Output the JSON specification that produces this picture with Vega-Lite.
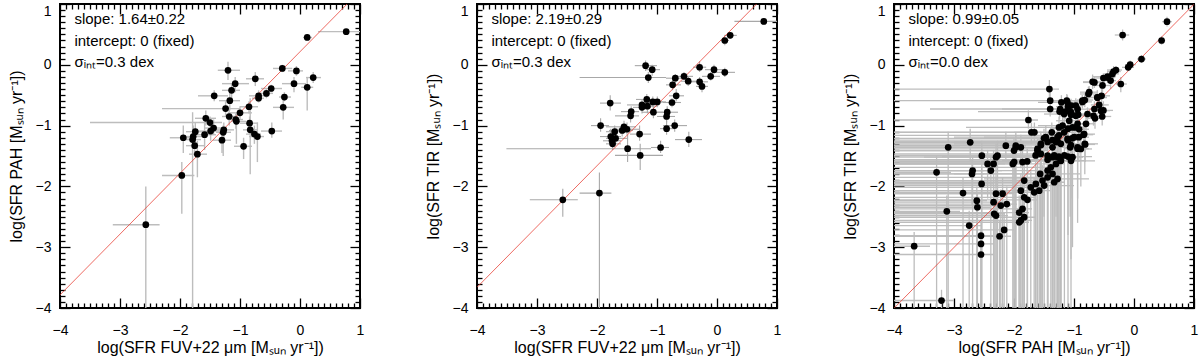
{
"$schema": "https://vega.github.io/schema/vega-lite/v6.json",
"padding": {"left": 7, "top": 2, "right": 0, "bottom": 0},
"background": "white",
"spacing": 59,
"config": {
  "view": {"stroke": "black", "strokeWidth": 2},
  "font": "Liberation Sans",
  "axis": {"domain": false, "tickColor": "black", "tickWidth": 1.3, "grid": false, "labelFont": "Liberation Sans", "labelFontSize": 14, "labelColor": "black", "labelFlush": false, "labelOverlap": false, "titleFont": "Liberation Sans", "titleFontSize": 16, "titleFontWeight": "normal", "titleColor": "black"}
},
"datasets": {
"p1": [
{"x":0.77,"y":0.545,"xlo":0.30,"xhi":1.25,"ylo":0.50,"yhi":0.59},
{"x":0.12,"y":0.45,"xlo":0.05,"xhi":0.2,"ylo":0.40,"yhi":0.50},
{"x":-0.295,"y":-0.06,"xlo":-0.45,"xhi":-0.13,"ylo":-0.12,"yhi":0.0},
{"x":-0.06,"y":-0.10,"xlo":-0.2,"xhi":0.05,"ylo":-0.18,"yhi":-0.02},
{"x":0.22,"y":-0.21,"xlo":0.1,"xhi":0.35,"ylo":-0.3,"yhi":-0.12},
{"x":0.12,"y":-0.37,"xlo":0.02,"xhi":0.22,"ylo":-0.75,"yhi":-0.2},
{"x":-0.1,"y":-0.31,"xlo":-0.3,"xhi":0.1,"ylo":-0.45,"yhi":-0.2},
{"x":-0.48,"y":-0.39,"xlo":-0.65,"xhi":-0.3,"ylo":-0.45,"yhi":-0.33},
{"x":-0.56,"y":-0.47,"xlo":-0.7,"xhi":-0.45,"ylo":-0.55,"yhi":-0.4},
{"x":-0.69,"y":-0.51,"xlo":-0.85,"xhi":-0.55,"ylo":-0.6,"yhi":-0.42},
{"x":-0.69,"y":-0.55,"xlo":-0.8,"xhi":-0.6,"ylo":-0.62,"yhi":-0.48},
{"x":-0.26,"y":-0.53,"xlo":-0.35,"xhi":-0.15,"ylo":-0.6,"yhi":-0.45},
{"x":-0.28,"y":-0.70,"xlo":-0.45,"xhi":-0.1,"ylo":-0.9,"yhi":-0.55},
{"x":-0.745,"y":-0.23,"xlo":-0.9,"xhi":-0.6,"ylo":-0.35,"yhi":-0.12},
{"x":-0.85,"y":-0.69,"xlo":-1.0,"xhi":-0.7,"ylo":-0.8,"yhi":-0.6},
{"x":-1.2,"y":-0.09,"xlo":-1.37,"xhi":-1.0,"ylo":-0.25,"yhi":0.05},
{"x":-1.08,"y":-0.31,"xlo":-1.3,"xhi":-0.85,"ylo":-0.45,"yhi":-0.2},
{"x":-1.14,"y":-0.42,"xlo":-1.3,"xhi":-1.0,"ylo":-0.6,"yhi":-0.3},
{"x":-1.43,"y":-0.51,"xlo":-1.7,"xhi":-1.2,"ylo":-0.6,"yhi":-0.42},
{"x":-1.17,"y":-0.59,"xlo":-1.35,"xhi":-1.0,"ylo":-0.75,"yhi":-0.45},
{"x":-1.24,"y":-0.72,"xlo":-2.3,"xhi":-1.0,"ylo":-0.85,"yhi":-0.6},
{"x":-1.0,"y":-0.79,"xlo":-1.2,"xhi":-0.8,"ylo":-0.9,"yhi":-0.68},
{"x":-1.18,"y":-0.85,"xlo":-1.3,"xhi":-1.05,"ylo":-1.0,"yhi":-0.7},
{"x":-1.07,"y":-0.90,"xlo":-1.2,"xhi":-0.95,"ylo":-1.05,"yhi":-0.8},
{"x":-1.06,"y":-0.93,"xlo":-1.15,"xhi":-0.9,"ylo":-1.3,"yhi":-0.8},
{"x":-1.57,"y":-0.88,"xlo":-1.75,"xhi":-1.4,"ylo":-1.0,"yhi":-0.75},
{"x":-1.5,"y":-0.95,"xlo":-3.5,"xhi":-1.3,"ylo":-1.05,"yhi":-0.85},
{"x":-1.44,"y":-1.04,"xlo":-1.6,"xhi":-1.3,"ylo":-1.15,"yhi":-0.9},
{"x":-1.49,"y":-1.09,"xlo":-1.7,"xhi":-1.3,"ylo":-1.25,"yhi":-0.95},
{"x":-1.59,"y":-1.15,"xlo":-1.8,"xhi":-1.4,"ylo":-1.4,"yhi":-0.95},
{"x":-1.27,"y":-1.07,"xlo":-1.45,"xhi":-1.1,"ylo":-1.2,"yhi":-0.95},
{"x":-1.28,"y":-1.11,"xlo":-1.4,"xhi":-1.15,"ylo":-1.5,"yhi":-1.0},
{"x":-1.3,"y":-1.24,"xlo":-1.45,"xhi":-1.15,"ylo":-1.45,"yhi":-1.1},
{"x":-0.84,"y":-0.96,"xlo":-1.0,"xhi":-0.7,"ylo":-1.1,"yhi":-0.85},
{"x":-0.83,"y":-1.07,"xlo":-0.95,"xhi":-0.7,"ylo":-1.8,"yhi":-0.55},
{"x":-0.76,"y":-1.14,"xlo":-0.9,"xhi":-0.65,"ylo":-1.3,"yhi":-1.0},
{"x":-0.71,"y":-1.18,"xlo":-0.85,"xhi":-0.6,"ylo":-1.6,"yhi":-0.95},
{"x":-0.47,"y":-1.09,"xlo":-0.65,"xhi":-0.3,"ylo":-1.2,"yhi":-0.95},
{"x":-0.94,"y":-1.34,"xlo":-1.1,"xhi":-0.8,"ylo":-1.55,"yhi":-1.2},
{"x":-1.745,"y":-1.10,"xlo":-1.9,"xhi":-1.5,"ylo":-1.3,"yhi":-0.95},
{"x":-1.78,"y":-1.18,"xlo":-1.95,"xhi":-1.6,"ylo":-1.35,"yhi":-1.0},
{"x":-1.79,"y":-1.23,"xlo":-1.9,"xhi":-1.65,"ylo":-4.0,"yhi":-0.78},
{"x":-1.945,"y":-1.20,"xlo":-2.17,"xhi":-1.78,"ylo":-1.45,"yhi":-1.0},
{"x":-1.755,"y":-1.33,"xlo":-1.9,"xhi":-1.6,"ylo":-1.5,"yhi":-1.15},
{"x":-1.71,"y":-1.47,"xlo":-1.85,"xhi":-1.55,"ylo":-1.85,"yhi":-1.25},
{"x":-1.97,"y":-1.82,"xlo":-2.3,"xhi":-1.76,"ylo":-2.45,"yhi":-1.6},
{"x":-2.57,"y":-2.63,"xlo":-3.12,"xhi":-2.34,"ylo":-4.0,"yhi":-2.0}
],
"p2": [
{"x":0.78,"y":0.714,"xlo":0.29,"xhi":1.1,"ylo":0.66,"yhi":0.77},
{"x":0.22,"y":0.484,"xlo":0.12,"xhi":0.33,"ylo":0.43,"yhi":0.54},
{"x":0.13,"y":0.40,"xlo":0.05,"xhi":0.2,"ylo":0.32,"yhi":0.47},
{"x":0.13,"y":-0.124,"xlo":-0.02,"xhi":0.3,"ylo":-0.2,"yhi":-0.05},
{"x":-0.29,"y":-0.04,"xlo":-0.4,"xhi":-0.18,"ylo":-0.12,"yhi":0.06},
{"x":-0.05,"y":-0.08,"xlo":-0.2,"xhi":0.1,"ylo":-0.15,"yhi":0.0},
{"x":-0.105,"y":-0.19,"xlo":-0.25,"xhi":0.05,"ylo":-0.26,"yhi":-0.12},
{"x":-0.29,"y":-0.28,"xlo":-0.45,"xhi":-0.15,"ylo":-0.35,"yhi":-0.2},
{"x":-0.25,"y":-0.355,"xlo":-0.35,"xhi":-0.15,"ylo":-0.45,"yhi":-0.28},
{"x":-1.19,"y":-0.014,"xlo":-1.37,"xhi":-1.0,"ylo":-0.1,"yhi":0.07},
{"x":-1.08,"y":-0.08,"xlo":-1.2,"xhi":-0.95,"ylo":-0.18,"yhi":0.0},
{"x":-1.145,"y":-0.21,"xlo":-2.29,"xhi":-0.85,"ylo":-0.3,"yhi":-0.12},
{"x":-0.695,"y":-0.22,"xlo":-0.85,"xhi":-0.55,"ylo":-0.3,"yhi":-0.15},
{"x":-0.55,"y":-0.19,"xlo":-0.7,"xhi":-0.4,"ylo":-0.25,"yhi":-0.12},
{"x":-0.48,"y":-0.27,"xlo":-0.6,"xhi":-0.35,"ylo":-0.35,"yhi":-0.2},
{"x":-0.74,"y":-0.33,"xlo":-0.85,"xhi":-0.6,"ylo":-0.42,"yhi":-0.24},
{"x":-0.68,"y":-0.51,"xlo":-0.8,"xhi":-0.55,"ylo":-0.6,"yhi":-0.4},
{"x":-0.75,"y":-0.62,"xlo":-0.9,"xhi":-0.6,"ylo":-0.7,"yhi":-0.55},
{"x":-1.17,"y":-0.57,"xlo":-1.35,"xhi":-1.0,"ylo":-0.65,"yhi":-0.48},
{"x":-1.07,"y":-0.61,"xlo":-1.2,"xhi":-0.9,"ylo":-0.7,"yhi":-0.52},
{"x":-0.995,"y":-0.61,"xlo":-1.15,"xhi":-0.85,"ylo":-0.7,"yhi":-0.52},
{"x":-1.25,"y":-0.66,"xlo":-1.5,"xhi":-1.1,"ylo":-0.75,"yhi":-0.58},
{"x":-1.25,"y":-0.70,"xlo":-1.4,"xhi":-1.1,"ylo":-0.8,"yhi":-0.62},
{"x":-1.16,"y":-0.68,"xlo":-1.3,"xhi":-1.0,"ylo":-0.8,"yhi":-0.58},
{"x":-1.43,"y":-0.77,"xlo":-1.6,"xhi":-1.3,"ylo":-0.85,"yhi":-0.68},
{"x":-1.44,"y":-0.84,"xlo":-1.7,"xhi":-1.3,"ylo":-0.95,"yhi":-0.75},
{"x":-1.78,"y":-0.63,"xlo":-1.95,"xhi":-1.6,"ylo":-0.75,"yhi":-0.5},
{"x":-1.06,"y":-0.78,"xlo":-1.25,"xhi":-0.9,"ylo":-0.88,"yhi":-0.68},
{"x":-0.83,"y":-0.78,"xlo":-1.0,"xhi":-0.65,"ylo":-0.88,"yhi":-0.68},
{"x":-0.84,"y":-0.85,"xlo":-1.0,"xhi":-0.7,"ylo":-0.95,"yhi":-0.78},
{"x":-0.705,"y":-1.0,"xlo":-0.9,"xhi":-0.5,"ylo":-1.1,"yhi":-0.9},
{"x":-0.84,"y":-1.05,"xlo":-0.95,"xhi":-0.7,"ylo":-1.15,"yhi":-0.92},
{"x":-1.94,"y":-1.0,"xlo":-2.1,"xhi":-1.8,"ylo":-1.1,"yhi":-0.88},
{"x":-1.55,"y":-1.02,"xlo":-1.85,"xhi":-1.35,"ylo":-1.1,"yhi":-0.92},
{"x":-1.58,"y":-1.08,"xlo":-1.8,"xhi":-1.4,"ylo":-1.18,"yhi":-0.98},
{"x":-1.5,"y":-1.06,"xlo":-1.7,"xhi":-1.3,"ylo":-1.15,"yhi":-0.95},
{"x":-1.705,"y":-1.10,"xlo":-1.85,"xhi":-1.55,"ylo":-1.2,"yhi":-1.0},
{"x":-1.77,"y":-1.18,"xlo":-1.95,"xhi":-1.6,"ylo":-1.3,"yhi":-1.05},
{"x":-1.69,"y":-1.21,"xlo":-1.85,"xhi":-1.5,"ylo":-1.3,"yhi":-1.1},
{"x":-1.75,"y":-1.25,"xlo":-1.9,"xhi":-1.6,"ylo":-1.35,"yhi":-1.15},
{"x":-1.74,"y":-1.30,"xlo":-1.85,"xhi":-1.6,"ylo":-1.4,"yhi":-1.2},
{"x":-1.29,"y":-1.14,"xlo":-1.45,"xhi":-1.1,"ylo":-1.25,"yhi":-1.0},
{"x":-0.47,"y":-1.23,"xlo":-0.7,"xhi":-0.25,"ylo":-1.35,"yhi":-1.1},
{"x":-0.94,"y":-1.36,"xlo":-1.1,"xhi":-0.8,"ylo":-1.45,"yhi":-1.25},
{"x":-1.49,"y":-1.38,"xlo":-3.51,"xhi":-1.1,"ylo":-1.6,"yhi":-1.15},
{"x":-1.28,"y":-1.49,"xlo":-1.7,"xhi":-0.9,"ylo":-1.73,"yhi":-1.3},
{"x":-2.57,"y":-2.22,"xlo":-3.12,"xhi":-2.32,"ylo":-2.5,"yhi":-2.04},
{"x":-1.96,"y":-2.11,"xlo":-2.29,"xhi":-1.76,"ylo":-4.0,"yhi":-1.77}
],
"p3": [
{"x":0.55,"y":0.71,"xlo":0.47,"xhi":0.63,"ylo":0.63,"yhi":0.79},
{"x":-0.19,"y":0.49,"xlo":-0.32,"xhi":-0.08,"ylo":0.40,"yhi":0.58},
{"x":0.46,"y":0.40,"xlo":0.40,"xhi":0.52,"ylo":0.33,"yhi":0.47},
{"x":0.125,"y":0.095,"xlo":0.05,"xhi":0.2,"ylo":0.03,"yhi":0.16},
{"x":-0.064,"y":0.002,"xlo":-0.15,"xhi":0.03,"ylo":-0.06,"yhi":0.07},
{"x":-0.097,"y":-0.042,"xlo":-0.2,"xhi":0.0,"ylo":-0.1,"yhi":0.02},
{"x":-0.30,"y":-0.086,"xlo":-0.45,"xhi":-0.2,"ylo":-0.15,"yhi":-0.02},
{"x":-0.36,"y":-0.15,"xlo":-0.5,"xhi":-0.25,"ylo":-0.22,"yhi":-0.08},
{"x":-0.44,"y":-0.195,"xlo":-0.7,"xhi":-0.3,"ylo":-0.26,"yhi":-0.13},
{"x":-0.51,"y":-0.217,"xlo":-0.65,"xhi":-0.4,"ylo":-0.3,"yhi":-0.14},
{"x":-0.39,"y":-0.26,"xlo":-0.55,"xhi":-0.3,"ylo":-0.4,"yhi":-0.15},
{"x":-0.22,"y":-0.316,"xlo":-0.3,"xhi":-0.12,"ylo":-0.45,"yhi":-0.2},
{"x":-0.66,"y":-0.29,"xlo":-0.85,"xhi":-0.55,"ylo":-0.38,"yhi":-0.2},
{"x":-0.747,"y":-0.45,"xlo":-0.9,"xhi":-0.6,"ylo":-0.55,"yhi":-0.35},
{"x":-0.61,"y":-0.535,"xlo":-0.75,"xhi":-0.45,"ylo":-0.65,"yhi":-0.42},
{"x":-0.86,"y":-0.59,"xlo":-1.0,"xhi":-0.75,"ylo":-0.7,"yhi":-0.5},
{"x":-0.66,"y":-0.727,"xlo":-0.8,"xhi":-0.5,"ylo":-0.85,"yhi":-0.6},
{"x":-0.55,"y":-0.754,"xlo":-0.7,"xhi":-0.4,"ylo":-0.9,"yhi":-0.65},
{"x":-0.775,"y":-0.809,"xlo":-0.95,"xhi":-0.6,"ylo":-0.95,"yhi":-0.7},
{"x":-0.97,"y":-0.67,"xlo":-1.2,"xhi":-0.85,"ylo":-0.8,"yhi":-0.55},
{"x":-1.11,"y":-0.617,"xlo":-1.4,"xhi":-0.95,"ylo":-0.75,"yhi":-0.5},
{"x":-1.10,"y":-0.69,"xlo":-1.3,"xhi":-0.95,"ylo":-0.8,"yhi":-0.58},
{"x":-1.21,"y":-0.617,"xlo":-1.6,"xhi":-1.05,"ylo":-0.72,"yhi":-0.5},
{"x":-1.23,"y":-0.727,"xlo":-2.2,"xhi":-1.1,"ylo":-0.85,"yhi":-0.6},
{"x":-1.05,"y":-0.78,"xlo":-1.2,"xhi":-0.9,"ylo":-0.9,"yhi":-0.65},
{"x":-1.164,"y":-0.81,"xlo":-1.5,"xhi":-1.0,"ylo":-0.95,"yhi":-0.7},
{"x":-0.97,"y":-0.836,"xlo":-1.1,"xhi":-0.8,"ylo":-0.95,"yhi":-0.7},
{"x":-1.41,"y":-0.40,"xlo":-4.0,"xhi":-1.25,"ylo":-0.55,"yhi":-0.25},
{"x":-1.397,"y":-0.59,"xlo":-4.0,"xhi":-1.25,"ylo":-0.7,"yhi":-0.45},
{"x":-1.397,"y":-0.727,"xlo":-3.4,"xhi":-1.25,"ylo":-0.85,"yhi":-0.6},
{"x":-1.76,"y":-0.908,"xlo":-4.0,"xhi":-1.6,"ylo":-1.05,"yhi":-0.75},
{"x":-1.71,"y":-1.11,"xlo":-4.0,"xhi":-1.55,"ylo":-1.3,"yhi":-0.95},
{"x":-1.66,"y":-1.11,"xlo":-4.0,"xhi":-1.5,"ylo":-1.25,"yhi":-0.95},
{"x":-1.37,"y":-1.11,"xlo":-4.0,"xhi":-1.2,"ylo":-1.3,"yhi":-0.95},
{"x":-1.47,"y":-1.19,"xlo":-3.0,"xhi":-1.3,"ylo":-1.4,"yhi":-1.0},
{"x":-1.275,"y":-1.19,"xlo":-2.5,"xhi":-1.1,"ylo":-1.4,"yhi":-1.0},
{"x":-1.025,"y":-1.03,"xlo":-1.3,"xhi":-0.85,"ylo":-1.2,"yhi":-0.88},
{"x":-0.94,"y":-0.97,"xlo":-1.1,"xhi":-0.8,"ylo":-1.1,"yhi":-0.85},
{"x":-0.914,"y":-1.06,"xlo":-1.1,"xhi":-0.75,"ylo":-1.25,"yhi":-0.9},
{"x":-0.83,"y":-1.14,"xlo":-1.0,"xhi":-0.65,"ylo":-1.3,"yhi":-1.0},
{"x":-0.997,"y":-1.19,"xlo":-1.2,"xhi":-0.85,"ylo":-1.5,"yhi":-1.0},
{"x":-1.108,"y":-1.22,"xlo":-1.6,"xhi":-0.95,"ylo":-1.6,"yhi":-1.05},
{"x":-1.164,"y":-1.11,"xlo":-2.0,"xhi":-1.0,"ylo":-1.3,"yhi":-0.95},
{"x":-1.25,"y":-1.03,"xlo":-2.8,"xhi":-1.1,"ylo":-1.2,"yhi":-0.85},
{"x":-1.064,"y":-1.357,"xlo":-1.5,"xhi":-0.9,"ylo":-2.5,"yhi":-1.15},
{"x":-0.94,"y":-1.357,"xlo":-1.2,"xhi":-0.8,"ylo":-2.2,"yhi":-1.15},
{"x":-0.886,"y":-1.384,"xlo":-1.05,"xhi":-0.7,"ylo":-2.0,"yhi":-1.2},
{"x":-0.814,"y":-1.31,"xlo":-1.0,"xhi":-0.65,"ylo":-1.6,"yhi":-1.1},
{"x":-1.025,"y":-1.52,"xlo":-1.4,"xhi":-0.85,"ylo":-3.0,"yhi":-1.3},
{"x":-1.358,"y":-1.357,"xlo":-4.0,"xhi":-1.2,"ylo":-4.0,"yhi":-1.15},
{"x":-1.30,"y":-1.27,"xlo":-3.0,"xhi":-1.15,"ylo":-2.5,"yhi":-1.1},
{"x":-1.553,"y":-1.30,"xlo":-4.0,"xhi":-1.4,"ylo":-4.0,"yhi":-1.1},
{"x":-1.608,"y":-1.384,"xlo":-4.0,"xhi":-1.45,"ylo":-4.0,"yhi":-1.2},
{"x":-1.553,"y":-1.466,"xlo":-4.0,"xhi":-1.4,"ylo":-4.0,"yhi":-1.25},
{"x":-1.44,"y":-1.494,"xlo":-4.0,"xhi":-1.3,"ylo":-4.0,"yhi":-1.3},
{"x":-1.358,"y":-1.52,"xlo":-3.5,"xhi":-1.2,"ylo":-4.0,"yhi":-1.3},
{"x":-1.275,"y":-1.52,"xlo":-2.5,"xhi":-1.1,"ylo":-4.0,"yhi":-1.3},
{"x":-1.22,"y":-1.576,"xlo":-2.2,"xhi":-0.8,"ylo":-4.0,"yhi":-1.35},
{"x":-1.30,"y":-1.63,"xlo":-4.0,"xhi":-1.15,"ylo":-4.0,"yhi":-1.4},
{"x":-1.386,"y":-1.686,"xlo":-4.0,"xhi":-1.2,"ylo":-4.0,"yhi":-1.45},
{"x":-1.44,"y":-1.74,"xlo":-4.0,"xhi":-1.3,"ylo":-4.0,"yhi":-1.5},
{"x":-1.358,"y":-1.795,"xlo":-3.0,"xhi":-0.9,"ylo":-4.0,"yhi":-1.55},
{"x":-1.275,"y":-1.877,"xlo":-2.5,"xhi":-0.75,"ylo":-4.0,"yhi":-1.6},
{"x":-1.33,"y":-1.932,"xlo":-4.0,"xhi":-1.15,"ylo":-4.0,"yhi":-1.7},
{"x":-1.44,"y":-1.85,"xlo":-4.0,"xhi":-1.3,"ylo":-4.0,"yhi":-1.6},
{"x":-1.525,"y":-1.905,"xlo":-4.0,"xhi":-1.35,"ylo":-4.0,"yhi":-1.65},
{"x":-1.564,"y":-1.795,"xlo":-4.0,"xhi":-1.4,"ylo":-4.0,"yhi":-1.55},
{"x":-1.636,"y":-1.96,"xlo":-4.0,"xhi":-1.45,"ylo":-4.0,"yhi":-1.7},
{"x":-1.497,"y":-1.987,"xlo":-4.0,"xhi":-1.0,"ylo":-4.0,"yhi":-1.75},
{"x":-1.58,"y":-2.07,"xlo":-4.0,"xhi":-1.4,"ylo":-4.0,"yhi":-1.8},
{"x":-1.664,"y":-2.097,"xlo":-4.0,"xhi":-1.5,"ylo":-4.0,"yhi":-1.85},
{"x":-1.72,"y":-2.015,"xlo":-4.0,"xhi":-1.55,"ylo":-4.0,"yhi":-1.75},
{"x":-1.83,"y":-1.905,"xlo":-4.0,"xhi":-1.65,"ylo":-4.0,"yhi":-1.65},
{"x":-1.886,"y":-2.07,"xlo":-4.0,"xhi":-1.7,"ylo":-4.0,"yhi":-1.8},
{"x":-1.83,"y":-2.18,"xlo":-4.0,"xhi":-1.65,"ylo":-4.0,"yhi":-1.9},
{"x":-1.775,"y":-2.22,"xlo":-4.0,"xhi":-1.6,"ylo":-4.0,"yhi":-1.95},
{"x":-1.858,"y":-2.37,"xlo":-4.0,"xhi":-1.7,"ylo":-4.0,"yhi":-2.1},
{"x":-1.914,"y":-2.43,"xlo":-4.0,"xhi":-1.75,"ylo":-4.0,"yhi":-2.15},
{"x":-1.886,"y":-2.56,"xlo":-4.0,"xhi":-1.7,"ylo":-4.0,"yhi":-2.3},
{"x":-1.83,"y":-2.507,"xlo":-4.0,"xhi":-1.65,"ylo":-4.0,"yhi":-2.2},
{"x":-1.914,"y":-2.59,"xlo":-4.0,"xhi":-1.75,"ylo":-4.0,"yhi":-2.35},
{"x":-1.97,"y":-1.357,"xlo":-4.0,"xhi":-1.8,"ylo":-4.0,"yhi":-1.15},
{"x":-1.997,"y":-1.6,"xlo":-4.0,"xhi":-1.8,"ylo":-4.0,"yhi":-1.35},
{"x":-2.02,"y":-1.63,"xlo":-4.0,"xhi":-1.85,"ylo":-4.0,"yhi":-1.4},
{"x":-1.858,"y":-1.6,"xlo":-4.0,"xhi":-1.7,"ylo":-4.0,"yhi":-1.35},
{"x":-1.886,"y":-1.357,"xlo":-4.0,"xhi":-1.7,"ylo":-1.7,"yhi":-1.15},
{"x":-2.136,"y":-1.33,"xlo":-4.0,"xhi":-1.95,"ylo":-1.6,"yhi":-1.1},
{"x":-2.12,"y":-2.29,"xlo":-4.0,"xhi":-1.95,"ylo":-4.0,"yhi":-2.0},
{"x":-2.19,"y":-2.12,"xlo":-4.0,"xhi":-2.0,"ylo":-4.0,"yhi":-1.85},
{"x":-2.22,"y":-2.316,"xlo":-4.0,"xhi":-2.05,"ylo":-4.0,"yhi":-2.05},
{"x":-2.30,"y":-2.12,"xlo":-4.0,"xhi":-2.1,"ylo":-4.0,"yhi":-1.85},
{"x":-2.34,"y":-2.26,"xlo":-4.0,"xhi":-2.15,"ylo":-4.0,"yhi":-2.0},
{"x":-2.33,"y":-2.45,"xlo":-4.0,"xhi":-2.15,"ylo":-4.0,"yhi":-2.2},
{"x":-2.30,"y":-2.48,"xlo":-4.0,"xhi":-2.1,"ylo":-4.0,"yhi":-2.2},
{"x":-2.164,"y":-2.716,"xlo":-4.0,"xhi":-2.0,"ylo":-4.0,"yhi":-2.45},
{"x":-2.24,"y":-2.82,"xlo":-4.0,"xhi":-2.05,"ylo":-4.0,"yhi":-2.55},
{"x":-2.275,"y":-1.494,"xlo":-4.0,"xhi":-2.1,"ylo":-4.0,"yhi":-1.25},
{"x":-2.30,"y":-1.52,"xlo":-4.0,"xhi":-2.1,"ylo":-2.0,"yhi":-1.3},
{"x":-2.34,"y":-1.63,"xlo":-4.0,"xhi":-2.15,"ylo":-4.0,"yhi":-1.4},
{"x":-2.386,"y":-1.74,"xlo":-4.0,"xhi":-2.2,"ylo":-4.0,"yhi":-1.5},
{"x":-2.44,"y":-1.63,"xlo":-4.0,"xhi":-2.25,"ylo":-2.2,"yhi":-1.4},
{"x":-2.536,"y":-1.494,"xlo":-4.0,"xhi":-2.35,"ylo":-4.0,"yhi":-1.25},
{"x":-2.54,"y":-1.96,"xlo":-4.0,"xhi":-2.35,"ylo":-4.0,"yhi":-1.7},
{"x":-2.62,"y":-2.234,"xlo":-4.0,"xhi":-2.45,"ylo":-4.0,"yhi":-2.0},
{"x":-2.61,"y":-2.343,"xlo":-4.0,"xhi":-2.4,"ylo":-4.0,"yhi":-2.1},
{"x":-2.69,"y":-1.74,"xlo":-4.0,"xhi":-2.5,"ylo":-4.0,"yhi":-1.5},
{"x":-2.70,"y":-1.795,"xlo":-4.0,"xhi":-2.5,"ylo":-2.3,"yhi":-1.55},
{"x":-2.73,"y":-1.275,"xlo":-4.0,"xhi":-2.55,"ylo":-1.6,"yhi":-1.05},
{"x":-2.747,"y":-2.645,"xlo":-4.0,"xhi":-2.55,"ylo":-4.0,"yhi":-2.4},
{"x":-2.55,"y":-2.81,"xlo":-4.0,"xhi":-2.35,"ylo":-4.0,"yhi":-2.55},
{"x":-2.55,"y":-2.946,"xlo":-4.0,"xhi":-2.35,"ylo":-4.0,"yhi":-2.7},
{"x":-2.55,"y":-3.12,"xlo":-4.0,"xhi":-2.35,"ylo":-4.0,"yhi":-2.85},
{"x":-2.85,"y":-2.11,"xlo":-4.0,"xhi":-2.65,"ylo":-4.0,"yhi":-1.85},
{"x":-3.097,"y":-1.357,"xlo":-4.0,"xhi":-2.9,"ylo":-4.0,"yhi":-1.1},
{"x":-3.12,"y":-2.41,"xlo":-4.0,"xhi":-2.9,"ylo":-4.0,"yhi":-2.15},
{"x":-3.29,"y":-1.768,"xlo":-4.0,"xhi":-3.05,"ylo":-4.0,"yhi":-1.5},
{"x":-3.664,"y":-2.984,"xlo":-4.0,"xhi":-3.4,"ylo":-4.0,"yhi":-2.75},
{"x":-3.208,"y":-3.877,"xlo":-4.0,"xhi":-3.0,"ylo":-4.0,"yhi":-3.7},
{"x":-1.12,"y":-0.59,"xlo":-1.35,"xhi":-0.95,"ylo":-0.7,"yhi":-0.48},
{"x":-1.05,"y":-0.67,"xlo":-1.25,"xhi":-0.9,"ylo":-0.78,"yhi":-0.56},
{"x":-1.24,"y":-0.77,"xlo":-2.6,"xhi":-1.1,"ylo":-0.9,"yhi":-0.65},
{"x":-1.14,"y":-0.77,"xlo":-1.4,"xhi":-1.0,"ylo":-0.9,"yhi":-0.65},
{"x":-1.05,"y":-0.82,"xlo":-1.2,"xhi":-0.9,"ylo":-0.95,"yhi":-0.7},
{"x":-1.08,"y":-0.92,"xlo":-1.3,"xhi":-0.9,"ylo":-1.05,"yhi":-0.8},
{"x":-0.94,"y":-0.73,"xlo":-1.1,"xhi":-0.8,"ylo":-0.85,"yhi":-0.6},
{"x":-0.93,"y":-0.82,"xlo":-1.1,"xhi":-0.75,"ylo":-0.95,"yhi":-0.7},
{"x":-0.86,"y":-0.61,"xlo":-1.0,"xhi":-0.7,"ylo":-0.72,"yhi":-0.5},
{"x":-0.82,"y":-0.58,"xlo":-0.95,"xhi":-0.68,"ylo":-0.7,"yhi":-0.46},
{"x":-0.76,"y":-0.48,"xlo":-0.9,"xhi":-0.6,"ylo":-0.6,"yhi":-0.36},
{"x":-0.69,"y":-0.28,"xlo":-0.85,"xhi":-0.55,"ylo":-0.4,"yhi":-0.16},
{"x":-0.61,"y":-0.54,"xlo":-0.75,"xhi":-0.45,"ylo":-0.65,"yhi":-0.42},
{"x":-0.58,"y":-0.66,"xlo":-0.72,"xhi":-0.42,"ylo":-0.8,"yhi":-0.52},
{"x":-0.54,"y":-0.51,"xlo":-0.68,"xhi":-0.4,"ylo":-0.62,"yhi":-0.4},
{"x":-0.525,"y":-0.34,"xlo":-0.65,"xhi":-0.4,"ylo":-0.45,"yhi":-0.22},
{"x":-0.51,"y":-0.75,"xlo":-0.65,"xhi":-0.35,"ylo":-0.9,"yhi":-0.6},
{"x":-0.53,"y":-0.85,"xlo":-0.7,"xhi":-0.38,"ylo":-1.0,"yhi":-0.7},
{"x":-0.44,"y":-0.21,"xlo":-0.55,"xhi":-0.32,"ylo":-0.3,"yhi":-0.12},
{"x":-0.34,"y":-0.11,"xlo":-0.45,"xhi":-0.22,"ylo":-0.2,"yhi":-0.02},
{"x":-0.675,"y":-0.84,"xlo":-0.85,"xhi":-0.5,"ylo":-1.0,"yhi":-0.7},
{"x":-0.65,"y":-0.88,"xlo":-0.8,"xhi":-0.5,"ylo":-1.05,"yhi":-0.72},
{"x":-1.19,"y":-1.0,"xlo":-1.6,"xhi":-1.0,"ylo":-1.15,"yhi":-0.85},
{"x":-1.1,"y":-1.05,"xlo":-1.4,"xhi":-0.95,"ylo":-1.25,"yhi":-0.88},
{"x":-0.97,"y":-1.03,"xlo":-1.15,"xhi":-0.8,"ylo":-1.2,"yhi":-0.88},
{"x":-0.80,"y":-0.97,"xlo":-0.95,"xhi":-0.65,"ylo":-1.1,"yhi":-0.85},
{"x":-0.84,"y":-1.15,"xlo":-1.0,"xhi":-0.68,"ylo":-1.35,"yhi":-1.0},
{"x":-0.82,"y":-1.30,"xlo":-1.0,"xhi":-0.6,"ylo":-1.8,"yhi":-1.15},
{"x":-0.92,"y":-1.19,"xlo":-1.1,"xhi":-0.75,"ylo":-1.6,"yhi":-1.05},
{"x":-1.03,"y":-1.21,"xlo":-1.3,"xhi":-0.85,"ylo":-2.2,"yhi":-1.05},
{"x":-1.10,"y":-1.24,"xlo":-1.5,"xhi":-0.9,"ylo":-2.8,"yhi":-1.1},
{"x":-1.05,"y":-1.32,"xlo":-1.4,"xhi":-0.85,"ylo":-3.2,"yhi":-1.15},
{"x":-0.94,"y":-1.38,"xlo":-1.15,"xhi":-0.75,"ylo":-2.6,"yhi":-1.2},
{"x":-1.25,"y":-1.16,"xlo":-4.0,"xhi":-1.1,"ylo":-4.0,"yhi":-1.0},
{"x":-1.27,"y":-1.27,"xlo":-4.0,"xhi":-1.1,"ylo":-4.0,"yhi":-1.1},
{"x":-1.22,"y":-1.30,"xlo":-3.0,"xhi":-1.05,"ylo":-4.0,"yhi":-1.12},
{"x":-1.36,"y":-1.24,"xlo":-4.0,"xhi":-1.2,"ylo":-4.0,"yhi":-1.05},
{"x":-1.44,"y":-1.27,"xlo":-4.0,"xhi":-1.3,"ylo":-4.0,"yhi":-1.1},
{"x":-1.55,"y":-1.32,"xlo":-4.0,"xhi":-1.4,"ylo":-4.0,"yhi":-1.15},
{"x":-1.61,"y":-1.41,"xlo":-4.0,"xhi":-1.45,"ylo":-4.0,"yhi":-1.25},
{"x":-1.64,"y":-1.49,"xlo":-4.0,"xhi":-1.5,"ylo":-4.0,"yhi":-1.3},
{"x":-1.5,"y":-1.21,"xlo":-4.0,"xhi":-1.35,"ylo":-2.5,"yhi":-1.05},
{"x":-1.33,"y":-1.49,"xlo":-4.0,"xhi":-1.15,"ylo":-4.0,"yhi":-1.3},
{"x":-1.25,"y":-1.51,"xlo":-3.2,"xhi":-1.1,"ylo":-4.0,"yhi":-1.3},
{"x":-1.16,"y":-1.49,"xlo":-2.6,"xhi":-1.0,"ylo":-4.0,"yhi":-1.3},
{"x":-1.1,"y":-1.51,"xlo":-2.2,"xhi":-0.7,"ylo":-4.0,"yhi":-1.3},
{"x":-1.05,"y":-1.58,"xlo":-1.8,"xhi":-0.65,"ylo":-4.0,"yhi":-1.35},
{"x":-1.22,"y":-1.58,"xlo":-4.0,"xhi":-1.05,"ylo":-4.0,"yhi":-1.38},
{"x":-1.44,"y":-1.56,"xlo":-4.0,"xhi":-1.3,"ylo":-4.0,"yhi":-1.38},
{"x":-1.97,"y":-1.33,"xlo":-4.0,"xhi":-1.8,"ylo":-4.0,"yhi":-1.12},
{"x":-2.0,"y":-1.41,"xlo":-4.0,"xhi":-1.85,"ylo":-4.0,"yhi":-1.2},
{"x":-1.78,"y":-1.59,"xlo":-4.0,"xhi":-1.6,"ylo":-4.0,"yhi":-1.38}
],
"fit1": [{"x":-4,"y":-3.785},{"x":0.785,"y":1}],
"fit2": [{"x":-4,"y":-3.66},{"x":0.66,"y":1}],
"fit3": [{"x":-4,"y":-4.004},{"x":1,"y":0.996}]
},
"hconcat": [
{
"width": 300, "height": 304,
"resolve": {"axis": {"x": "independent", "y": "independent"}},
"layer": [
{"data": {"name": "p1"}, "mark": {"type": "rule", "color": "#bdbdbd", "strokeWidth": 1.4, "clip": true},
 "encoding": {
  "x": {"field": "xlo", "type": "quantitative", "scale": {"domain": [-4, 1], "nice": false, "zero": false},
   "axis": {"orient": "bottom", "values": [-4,-3,-2,-1,0,1], "tickSize": 10, "offset": -10, "format": "d", "labelPadding": 15, "titlePadding": 2, "title": "log(SFR FUV+22 μm [Mₛᵤₙ yr⁻¹])"}},
  "x2": {"field": "xhi"},
  "y": {"field": "y", "type": "quantitative", "scale": {"domain": [-4, 1], "nice": false, "zero": false},
   "axis": {"orient": "left", "values": [-4,-3,-2,-1,0,1], "tickSize": 10, "offset": -10, "format": "d",
    "labelBaseline": {"condition": {"test": "datum.value > 0.99", "value": "top"}, "value": "middle"},
    "labelPadding": 9, "titlePadding": 11, "title": "log(SFR PAH [Mₛᵤₙ yr⁻¹])"}}
 }},
{"data": {"name": "p1"}, "mark": {"type": "rule", "color": "#bdbdbd", "strokeWidth": 1.4, "clip": true},
 "encoding": {
  "x": {"field": "x", "type": "quantitative", "scale": {"domain": [-4, 1], "nice": false, "zero": false},
   "axis": {"orient": "top", "values": [-4,-3,-2,-1,0,1], "tickSize": 10, "offset": -10, "labels": false, "title": null}},
  "y": {"field": "ylo", "type": "quantitative", "scale": {"domain": [-4, 1], "nice": false, "zero": false},
   "axis": {"orient": "right", "values": [-4,-3,-2,-1,0,1], "tickSize": 10, "offset": -10, "labels": false, "title": null}},
  "y2": {"field": "yhi"}
 }},
{"data": {"name": "fit1"}, "mark": {"type": "line", "color": "#e8443a", "strokeWidth": 0.8, "clip": true},
 "encoding": {"x": {"field": "x", "type": "quantitative", "scale": {"domain": [-4, 1], "nice": false, "zero": false},
   "axis": {"orient": "bottom", "values": [-3.9,-3.8,-3.7,-3.6,-3.5,-3.4,-3.3,-3.2,-3.1,-2.9,-2.8,-2.7,-2.6,-2.5,-2.4,-2.3,-2.2,-2.1,-1.9,-1.8,-1.7,-1.6,-1.5,-1.4,-1.3,-1.2,-1.1,-0.9,-0.8,-0.7,-0.6,-0.5,-0.4,-0.3,-0.2,-0.1,0.1,0.2,0.3,0.4,0.5,0.6,0.7,0.8,0.9], "tickSize": 5, "offset": -5, "labels": false, "title": null}},
  "y": {"field": "y", "type": "quantitative", "scale": {"domain": [-4, 1], "nice": false, "zero": false},
   "axis": {"orient": "left", "values": [-3.9,-3.8,-3.7,-3.6,-3.5,-3.4,-3.3,-3.2,-3.1,-2.9,-2.8,-2.7,-2.6,-2.5,-2.4,-2.3,-2.2,-2.1,-1.9,-1.8,-1.7,-1.6,-1.5,-1.4,-1.3,-1.2,-1.1,-0.9,-0.8,-0.7,-0.6,-0.5,-0.4,-0.3,-0.2,-0.1,0.1,0.2,0.3,0.4,0.5,0.6,0.7,0.8,0.9], "tickSize": 5, "offset": -5, "labels": false, "title": null}}}},
{"data": {"name": "p1"}, "mark": {"type": "circle", "color": "black", "opacity": 1, "size": 45, "clip": true},
 "encoding": {"x": {"field": "x", "type": "quantitative", "scale": {"domain": [-4, 1], "nice": false, "zero": false},
   "axis": {"orient": "top", "values": [-3.9,-3.8,-3.7,-3.6,-3.5,-3.4,-3.3,-3.2,-3.1,-2.9,-2.8,-2.7,-2.6,-2.5,-2.4,-2.3,-2.2,-2.1,-1.9,-1.8,-1.7,-1.6,-1.5,-1.4,-1.3,-1.2,-1.1,-0.9,-0.8,-0.7,-0.6,-0.5,-0.4,-0.3,-0.2,-0.1,0.1,0.2,0.3,0.4,0.5,0.6,0.7,0.8,0.9], "tickSize": 5, "offset": -5, "labels": false, "title": null}},
  "y": {"field": "y", "type": "quantitative", "scale": {"domain": [-4, 1], "nice": false, "zero": false},
   "axis": {"orient": "right", "values": [-3.9,-3.8,-3.7,-3.6,-3.5,-3.4,-3.3,-3.2,-3.1,-2.9,-2.8,-2.7,-2.6,-2.5,-2.4,-2.3,-2.2,-2.1,-1.9,-1.8,-1.7,-1.6,-1.5,-1.4,-1.3,-1.2,-1.1,-0.9,-0.8,-0.7,-0.6,-0.5,-0.4,-0.3,-0.2,-0.1,0.1,0.2,0.3,0.4,0.5,0.6,0.7,0.8,0.9], "tickSize": 5, "offset": -5, "labels": false, "title": null}}}},
{"data": {"values": [{}]}, "mark": {"type": "text", "align": "left", "baseline": "middle", "fontSize": 15, "lineHeight": 21.5, "color": "black", "font": "Liberation Sans"},
 "encoding": {"x": {"datum": -3.76, "type": "quantitative", "axis": null}, "y": {"datum": 0.75, "type": "quantitative", "axis": null},
  "text": {"value": ["slope: 1.64±0.22", "intercept: 0 (fixed)", "σᵢₙₜ=0.3 dex"]}}}
]
},
{
"width": 300, "height": 304,
"resolve": {"axis": {"x": "independent", "y": "independent"}},
"layer": [
{"data": {"name": "p2"}, "mark": {"type": "rule", "color": "#a8a8a8", "strokeWidth": 1.1, "clip": true},
 "encoding": {
  "x": {"field": "xlo", "type": "quantitative", "scale": {"domain": [-4, 1], "nice": false, "zero": false},
   "axis": {"orient": "bottom", "values": [-4,-3,-2,-1,0,1], "tickSize": 10, "offset": -10, "format": "d", "labelPadding": 15, "titlePadding": 2, "title": "log(SFR FUV+22 μm [Mₛᵤₙ yr⁻¹])"}},
  "x2": {"field": "xhi"},
  "y": {"field": "y", "type": "quantitative", "scale": {"domain": [-4, 1], "nice": false, "zero": false},
   "axis": {"orient": "left", "values": [-4,-3,-2,-1,0,1], "tickSize": 10, "offset": -10, "format": "d",
    "labelBaseline": {"condition": {"test": "datum.value > 0.99", "value": "top"}, "value": "middle"},
    "labelPadding": 9, "titlePadding": 11, "title": "log(SFR TIR [Mₛᵤₙ yr⁻¹])"}}
 }},
{"data": {"name": "p2"}, "mark": {"type": "rule", "color": "#a8a8a8", "strokeWidth": 1.1, "clip": true},
 "encoding": {
  "x": {"field": "x", "type": "quantitative", "scale": {"domain": [-4, 1], "nice": false, "zero": false},
   "axis": {"orient": "top", "values": [-4,-3,-2,-1,0,1], "tickSize": 10, "offset": -10, "labels": false, "title": null}},
  "y": {"field": "ylo", "type": "quantitative", "scale": {"domain": [-4, 1], "nice": false, "zero": false},
   "axis": {"orient": "right", "values": [-4,-3,-2,-1,0,1], "tickSize": 10, "offset": -10, "labels": false, "title": null}},
  "y2": {"field": "yhi"}
 }},
{"data": {"name": "fit2"}, "mark": {"type": "line", "color": "#e8443a", "strokeWidth": 0.8, "clip": true},
 "encoding": {"x": {"field": "x", "type": "quantitative", "scale": {"domain": [-4, 1], "nice": false, "zero": false},
   "axis": {"orient": "bottom", "values": [-3.9,-3.8,-3.7,-3.6,-3.5,-3.4,-3.3,-3.2,-3.1,-2.9,-2.8,-2.7,-2.6,-2.5,-2.4,-2.3,-2.2,-2.1,-1.9,-1.8,-1.7,-1.6,-1.5,-1.4,-1.3,-1.2,-1.1,-0.9,-0.8,-0.7,-0.6,-0.5,-0.4,-0.3,-0.2,-0.1,0.1,0.2,0.3,0.4,0.5,0.6,0.7,0.8,0.9], "tickSize": 5, "offset": -5, "labels": false, "title": null}},
  "y": {"field": "y", "type": "quantitative", "scale": {"domain": [-4, 1], "nice": false, "zero": false},
   "axis": {"orient": "left", "values": [-3.9,-3.8,-3.7,-3.6,-3.5,-3.4,-3.3,-3.2,-3.1,-2.9,-2.8,-2.7,-2.6,-2.5,-2.4,-2.3,-2.2,-2.1,-1.9,-1.8,-1.7,-1.6,-1.5,-1.4,-1.3,-1.2,-1.1,-0.9,-0.8,-0.7,-0.6,-0.5,-0.4,-0.3,-0.2,-0.1,0.1,0.2,0.3,0.4,0.5,0.6,0.7,0.8,0.9], "tickSize": 5, "offset": -5, "labels": false, "title": null}}}},
{"data": {"name": "p2"}, "mark": {"type": "circle", "color": "black", "opacity": 1, "size": 45, "clip": true},
 "encoding": {"x": {"field": "x", "type": "quantitative", "scale": {"domain": [-4, 1], "nice": false, "zero": false},
   "axis": {"orient": "top", "values": [-3.9,-3.8,-3.7,-3.6,-3.5,-3.4,-3.3,-3.2,-3.1,-2.9,-2.8,-2.7,-2.6,-2.5,-2.4,-2.3,-2.2,-2.1,-1.9,-1.8,-1.7,-1.6,-1.5,-1.4,-1.3,-1.2,-1.1,-0.9,-0.8,-0.7,-0.6,-0.5,-0.4,-0.3,-0.2,-0.1,0.1,0.2,0.3,0.4,0.5,0.6,0.7,0.8,0.9], "tickSize": 5, "offset": -5, "labels": false, "title": null}},
  "y": {"field": "y", "type": "quantitative", "scale": {"domain": [-4, 1], "nice": false, "zero": false},
   "axis": {"orient": "right", "values": [-3.9,-3.8,-3.7,-3.6,-3.5,-3.4,-3.3,-3.2,-3.1,-2.9,-2.8,-2.7,-2.6,-2.5,-2.4,-2.3,-2.2,-2.1,-1.9,-1.8,-1.7,-1.6,-1.5,-1.4,-1.3,-1.2,-1.1,-0.9,-0.8,-0.7,-0.6,-0.5,-0.4,-0.3,-0.2,-0.1,0.1,0.2,0.3,0.4,0.5,0.6,0.7,0.8,0.9], "tickSize": 5, "offset": -5, "labels": false, "title": null}}}},
{"data": {"values": [{}]}, "mark": {"type": "text", "align": "left", "baseline": "middle", "fontSize": 15, "lineHeight": 21.5, "color": "black", "font": "Liberation Sans"},
 "encoding": {"x": {"datum": -3.76, "type": "quantitative", "axis": null}, "y": {"datum": 0.75, "type": "quantitative", "axis": null},
  "text": {"value": ["slope: 2.19±0.29", "intercept: 0 (fixed)", "σᵢₙₜ=0.3 dex"]}}}
]
},
{
"width": 300, "height": 304,
"resolve": {"axis": {"x": "independent", "y": "independent"}},
"layer": [
{"data": {"name": "p3"}, "mark": {"type": "rule", "color": "#bdbdbd", "strokeWidth": 1.3, "clip": true},
 "encoding": {
  "x": {"field": "xlo", "type": "quantitative", "scale": {"domain": [-4, 1], "nice": false, "zero": false},
   "axis": {"orient": "bottom", "values": [-4,-3,-2,-1,0,1], "tickSize": 10, "offset": -10, "format": "d", "labelPadding": 15, "titlePadding": 2, "title": "log(SFR PAH [Mₛᵤₙ yr⁻¹])"}},
  "x2": {"field": "xhi"},
  "y": {"field": "y", "type": "quantitative", "scale": {"domain": [-4, 1], "nice": false, "zero": false},
   "axis": {"orient": "left", "values": [-4,-3,-2,-1,0,1], "tickSize": 10, "offset": -10, "format": "d",
    "labelBaseline": {"condition": {"test": "datum.value > 0.99", "value": "top"}, "value": "middle"},
    "labelPadding": 9, "titlePadding": 11, "title": "log(SFR TIR [Mₛᵤₙ yr⁻¹])"}}
 }},
{"data": {"name": "p3"}, "mark": {"type": "rule", "color": "#bdbdbd", "strokeWidth": 1.3, "clip": true},
 "encoding": {
  "x": {"field": "x", "type": "quantitative", "scale": {"domain": [-4, 1], "nice": false, "zero": false},
   "axis": {"orient": "top", "values": [-4,-3,-2,-1,0,1], "tickSize": 10, "offset": -10, "labels": false, "title": null}},
  "y": {"field": "ylo", "type": "quantitative", "scale": {"domain": [-4, 1], "nice": false, "zero": false},
   "axis": {"orient": "right", "values": [-4,-3,-2,-1,0,1], "tickSize": 10, "offset": -10, "labels": false, "title": null}},
  "y2": {"field": "yhi"}
 }},
{"data": {"name": "fit3"}, "mark": {"type": "line", "color": "#e8443a", "strokeWidth": 0.8, "clip": true},
 "encoding": {"x": {"field": "x", "type": "quantitative", "scale": {"domain": [-4, 1], "nice": false, "zero": false},
   "axis": {"orient": "bottom", "values": [-3.9,-3.8,-3.7,-3.6,-3.5,-3.4,-3.3,-3.2,-3.1,-2.9,-2.8,-2.7,-2.6,-2.5,-2.4,-2.3,-2.2,-2.1,-1.9,-1.8,-1.7,-1.6,-1.5,-1.4,-1.3,-1.2,-1.1,-0.9,-0.8,-0.7,-0.6,-0.5,-0.4,-0.3,-0.2,-0.1,0.1,0.2,0.3,0.4,0.5,0.6,0.7,0.8,0.9], "tickSize": 5, "offset": -5, "labels": false, "title": null}},
  "y": {"field": "y", "type": "quantitative", "scale": {"domain": [-4, 1], "nice": false, "zero": false},
   "axis": {"orient": "left", "values": [-3.9,-3.8,-3.7,-3.6,-3.5,-3.4,-3.3,-3.2,-3.1,-2.9,-2.8,-2.7,-2.6,-2.5,-2.4,-2.3,-2.2,-2.1,-1.9,-1.8,-1.7,-1.6,-1.5,-1.4,-1.3,-1.2,-1.1,-0.9,-0.8,-0.7,-0.6,-0.5,-0.4,-0.3,-0.2,-0.1,0.1,0.2,0.3,0.4,0.5,0.6,0.7,0.8,0.9], "tickSize": 5, "offset": -5, "labels": false, "title": null}}}},
{"data": {"name": "p3"}, "mark": {"type": "circle", "color": "black", "opacity": 1, "size": 45, "clip": true},
 "encoding": {"x": {"field": "x", "type": "quantitative", "scale": {"domain": [-4, 1], "nice": false, "zero": false},
   "axis": {"orient": "top", "values": [-3.9,-3.8,-3.7,-3.6,-3.5,-3.4,-3.3,-3.2,-3.1,-2.9,-2.8,-2.7,-2.6,-2.5,-2.4,-2.3,-2.2,-2.1,-1.9,-1.8,-1.7,-1.6,-1.5,-1.4,-1.3,-1.2,-1.1,-0.9,-0.8,-0.7,-0.6,-0.5,-0.4,-0.3,-0.2,-0.1,0.1,0.2,0.3,0.4,0.5,0.6,0.7,0.8,0.9], "tickSize": 5, "offset": -5, "labels": false, "title": null}},
  "y": {"field": "y", "type": "quantitative", "scale": {"domain": [-4, 1], "nice": false, "zero": false},
   "axis": {"orient": "right", "values": [-3.9,-3.8,-3.7,-3.6,-3.5,-3.4,-3.3,-3.2,-3.1,-2.9,-2.8,-2.7,-2.6,-2.5,-2.4,-2.3,-2.2,-2.1,-1.9,-1.8,-1.7,-1.6,-1.5,-1.4,-1.3,-1.2,-1.1,-0.9,-0.8,-0.7,-0.6,-0.5,-0.4,-0.3,-0.2,-0.1,0.1,0.2,0.3,0.4,0.5,0.6,0.7,0.8,0.9], "tickSize": 5, "offset": -5, "labels": false, "title": null}}}},
{"data": {"values": [{}]}, "mark": {"type": "text", "align": "left", "baseline": "middle", "fontSize": 15, "lineHeight": 21.5, "color": "black", "font": "Liberation Sans"},
 "encoding": {"x": {"datum": -3.76, "type": "quantitative", "axis": null}, "y": {"datum": 0.75, "type": "quantitative", "axis": null},
  "text": {"value": ["slope: 0.99±0.05", "intercept: 0 (fixed)", "σᵢₙₜ=0.0 dex"]}}}
]
}
]
}
